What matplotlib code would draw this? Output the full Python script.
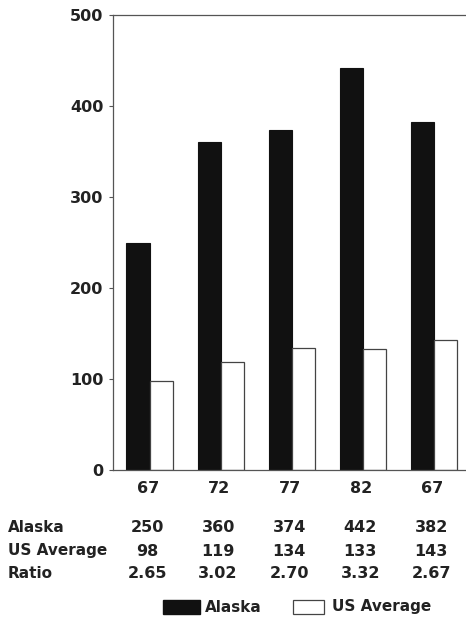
import matplotlib
matplotlib.use("Agg")
import matplotlib.pyplot as plt
import numpy as np
from matplotlib.patches import Rectangle

years = ["67", "72", "77", "82", "67"]
alaska = [250, 360, 374, 442, 382]
us_avg = [98, 119, 134, 133, 143]
ratio_labels = ["2.65", "3.02", "2.70", "3.32", "2.67"]
yticks = [0, 100, 200, 300, 400, 500]

plt.rcParams['font.family'] = ['DejaVu Sans']
W, H = 466, 619
fig = plt.figure(figsize=(W/100, H/100), dpi=100)
ax = fig.add_axes([113/W, 1-470/H, 1-113/W, 455/H])

x = np.arange(len(years))
w = 0.33
ax.bar(x - w/2, alaska, width=w, color="#111111", edgecolor="#111111", linewidth=0.8)
ax.bar(x + w/2, us_avg, width=w, color="white", edgecolor="#444444", linewidth=0.9)

ax.set_xlim(-0.52, 4.45)
ax.set_ylim(0, 500)
ax.set_yticks(yticks)
ax.set_yticklabels([str(v) for v in yticks], fontsize=11.5, fontweight='bold', color="#222222")
ax.tick_params(axis='y', length=3, width=0.8, pad=4, color="#555555")
ax.set_xticks(x - 0.03)
ax.set_xticklabels(years, fontsize=11.5, fontweight='bold', color="#222222")
ax.tick_params(axis='x', length=0, pad=8)
for s in ['left', 'top', 'bottom']:
    ax.spines[s].set_color("#555555")
    ax.spines[s].set_linewidth(0.9)
ax.spines['right'].set_visible(False)

# table rows
rows = [("Alaska", [str(v) for v in alaska]),
        ("US Average", [str(v) for v in us_avg]),
        ("Ratio", ratio_labels)]
row_y = [528, 551, 573]
for (lab, vals), yp in zip(rows, row_y):
    fy = 1 - yp/H
    fig.text(8/W, fy, lab, fontsize=11, fontweight='bold', color="#222222", va='center', ha='left')
    for xi, v in zip(x, vals):
        disp = ax.transData.transform((xi - 0.04, 0))
        fx = disp[0] / fig.bbox.width
        fig.text(fx, fy, v, fontsize=11.5, fontweight='bold', color="#222222", va='center', ha='center')

# legend
ly = 1 - 607/H
fig.patches.append(Rectangle((163/W, ly - 7/H), 37/W, 14/H, transform=fig.transFigure,
                             facecolor="#111111", edgecolor="#111111"))
fig.text(205/W, ly, "Alaska", fontsize=11, fontweight='bold', color="#222222", va='center')
fig.patches.append(Rectangle((293/W, ly - 7/H), 31/W, 14/H, transform=fig.transFigure,
                             facecolor="white", edgecolor="#444444", linewidth=0.9))
fig.text(332/W, ly, "US Average", fontsize=11, fontweight='bold', color="#222222", va='center')

fig.savefig("out.png", dpi=100)
